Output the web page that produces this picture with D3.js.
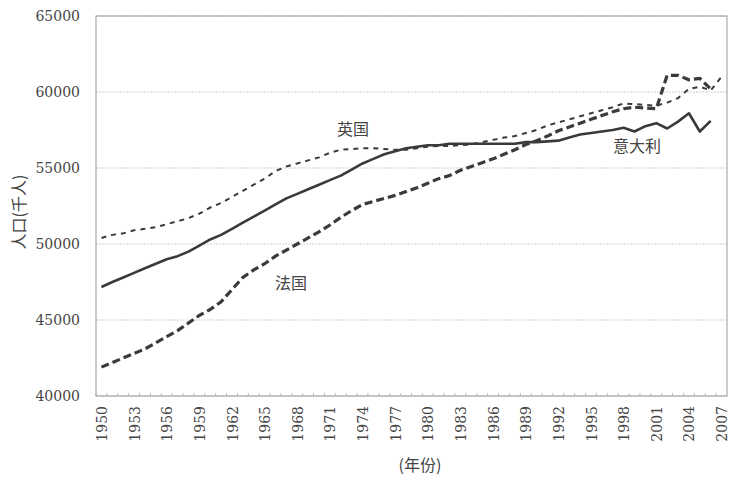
<!DOCTYPE html>
<html><head><meta charset="utf-8">
<script src="https://cdn.jsdelivr.net/npm/d3@7"></script>
<style>body{margin:0;background:#fff}svg{display:block}</style>
</head><body><svg id="c" width="750" height="485"></svg>
<script>
const years = [1950,1951,1952,1953,1954,1955,1956,1957,1958,1959,1960,1961,1962,1963,1964,1965,1966,1967,1968,1969,
1970,1971,1972,1973,1974,1975,1976,1977,1978,1979,1980,1981,1982,1983,1984,1985,1986,1987,1988,1989,
1990,1991,1992,1993,1994,1995,1996,1997,1998,1999,2000,2001,2002,2003,2004,2005,2006,2007];
const tickYears = [1950,1953,1956,1959,1962,1965,1968,1971,1974,1977,1980,1983,1986,1989,1992,1995,1998,2001,2004,2007];
const yTicks = [40000,45000,50000,55000,60000,65000];
const italy = [47170,47500,47800,48100,48400,48700,49000,49200,49500,49900,50300,50600,51000,51400,51800,52200,52600,53000,53300,53600,
53900,54200,54500,54900,55300,55600,55900,56100,56300,56400,56500,56500,56600,56600,56600,56600,56600,56600,56600,56700,
56700,56750,56800,57000,57200,57300,57400,57500,57650,57400,57750,57950,57600,58050,58600,57400,58100,null];
const uk = [50400,50600,50700,50900,51000,51100,51300,51500,51700,52000,52400,52700,53100,53500,53900,54300,54800,55100,55300,55500,
55700,56000,56200,56250,56300,56300,56250,56200,56200,56300,56400,56450,56450,56500,56550,56700,56850,57000,57100,57300,
57500,57800,58000,58200,58400,58600,58800,59000,59250,59200,59150,59100,59300,59600,60200,60350,60100,61000];
const france = [41900,42200,42500,42800,43100,43500,43900,44300,44800,45300,45700,46200,47000,47800,48300,48700,49200,49600,50000,50400,
50800,51250,51750,52200,52600,52800,53000,53200,53450,53700,54000,54300,54500,54850,55100,55350,55600,55900,56200,56550,
56800,57100,57450,57700,57950,58200,58450,58700,58900,59000,58950,58900,61100,61100,60800,60900,60200,null];

const svg = d3.select("#c");
const L=96, R=727, T=16, B=396;
const x = d3.scalePoint().domain(years).range([L,R]).padding(0.5);
const y = d3.scaleLinear().domain([40000,65000]).range([B,T]);
const ink = "#3a3a3a", txt = "#444";

// gridlines
svg.append("g").selectAll("line").data(yTicks).join("line")
  .attr("x1",L).attr("x2",R).attr("y1",d=>y(d)).attr("y2",d=>y(d))
  .attr("stroke","#cfcfcf").attr("stroke-width",1).attr("stroke-dasharray","2,1");
// frame
svg.append("rect").attr("x",L).attr("y",T).attr("width",R-L).attr("height",B-T)
  .attr("fill","none").attr("stroke","#999").attr("stroke-width",1);

// y axis
const ya = svg.append("g").attr("transform",`translate(${L},0)`)
  .call(d3.axisLeft(y).tickValues(yTicks).tickSize(0).tickPadding(16).tickFormat(d3.format("d")));
ya.select(".domain").remove();
ya.selectAll("text").attr("fill",txt).style("font-family","DejaVu Serif").style("font-size","14px");

// x axis
const xa = svg.append("g").attr("transform",`translate(0,${B})`)
  .call(d3.axisBottom(x).tickValues(tickYears).tickSize(0).tickFormat(d3.format("d")));
xa.select(".domain").remove();
xa.selectAll("text").attr("fill",txt).style("font-family","DejaVu Serif").style("font-size","14px")
  .attr("transform","rotate(-90)").attr("text-anchor","end").attr("x",-10).attr("y",0).attr("dy","0.36em");
// minor ticks each year
svg.append("g").selectAll("line").data(years).join("line")
  .attr("x1",d=>x(d)-x.step()/2).attr("x2",d=>x(d)-x.step()/2).attr("y1",B).attr("y2",B-3)
  .attr("stroke","#aaa").attr("stroke-width",0.8);

const line = d3.line().defined(d=>d[1]!=null).x(d=>x(d[0])).y(d=>y(d[1]));
const mk = arr => years.map((yr,i)=>[yr,arr[i]]);
svg.append("path").datum(mk(uk)).attr("d",line).attr("fill","none").attr("stroke",ink)
  .attr("stroke-width",2).attr("stroke-dasharray","5,5");
svg.append("path").datum(mk(france)).attr("d",line).attr("fill","none").attr("stroke",ink)
  .attr("stroke-width",3.2).attr("stroke-dasharray","8,4");
svg.append("path").datum(mk(italy)).attr("d",line).attr("fill","none").attr("stroke",ink)
  .attr("stroke-width",2.6).attr("stroke-linejoin","round");

const cjk = "'Noto Sans CJK SC', sans-serif";
const lab = (t,px,py)=>svg.append("text").text(t).attr("x",px).attr("y",py).attr("text-anchor","middle")
  .attr("fill",txt).style("font-family",cjk).style("font-size","16px");
lab("英国",353,135);
lab("法国",291,289);
lab("意大利",637,152);
lab("(年份)",420,471);
svg.append("text").text("人口(千人)").attr("transform","translate(25,212) rotate(-90)")
  .attr("text-anchor","middle").attr("fill",txt).style("font-family",cjk).style("font-size","16px");
</script></body></html>
